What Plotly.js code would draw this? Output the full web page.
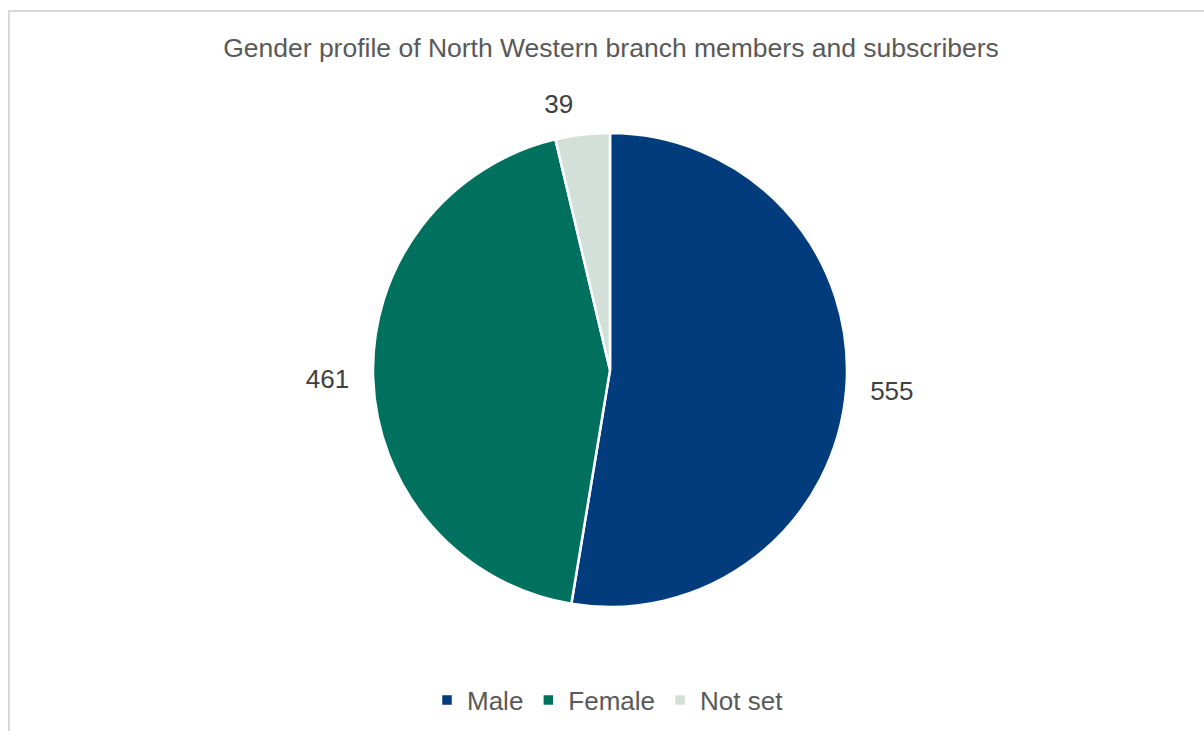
<!DOCTYPE html>
<html>
<head>
<meta charset="utf-8">
<script src="https://cdn.plot.ly/plotly-3.0.1.min.js"></script>
<style>
html,body{margin:0;padding:0;background:#fff;}
#frame{position:absolute;left:8px;top:10px;width:1300px;height:900px;border:2px solid #d9d9d9;box-sizing:border-box;}
#chart{position:absolute;left:0;top:0;width:1204px;height:731px;}
</style>
</head>
<body>
<div id="frame"></div>
<div id="chart"></div>
<script>
const categories = ["Male", "Female", "Not set"];
const values = [555, 461, 39];
const colors = ["#023C7C", "#00705F", "#D2E0D9"];
const chartTitle = "Gender profile of North Western branch members and subscribers";

const FONT = "Liberation Sans, Arial, sans-serif";

// visible pie (no text)
const pieTrace = {
  type: "pie",
  labels: categories,
  values: values,
  sort: false,
  direction: "clockwise",
  rotation: 0,
  domain: {x: [17/508, 491/508], y: [17/507, 491/507]},
  marker: {colors: colors, line: {color: "#ffffff", width: 2.5}},
  textinfo: "none",
  hoverinfo: "label+value",
  showlegend: true
};

// transparent, slightly larger pie only to place the outside value labels
const labelTrace = {
  type: "pie",
  labels: categories,
  values: values,
  sort: false,
  direction: "clockwise",
  rotation: 0,
  domain: {x: [0, 1], y: [0, 1]},
  marker: {colors: ["rgba(0,0,0,0)", "rgba(0,0,0,0)", "rgba(0,0,0,0)"], line: {width: 0}},
  textinfo: "value",
  textposition: "outside",
  textfont: {family: FONT, size: 26, color: "#404040"},
  hoverinfo: "skip",
  showlegend: false
};

const layout = {
  width: 1204,
  height: 731,
  paper_bgcolor: "rgba(0,0,0,0)",
  plot_bgcolor: "rgba(0,0,0,0)",
  margin: {l: 356, r: 340, t: 117, b: 107},
  title: {
    text: chartTitle,
    font: {family: FONT, size: 26.5, color: "#595959"},
    x: 611/1204, xref: "container", xanchor: "center",
    y: 1 - 48/731, yref: "container", yanchor: "middle"
  },
  legend: {
    orientation: "h",
    x: 608/1204, xref: "container", xanchor: "center",
    y: 1 - 700/731, yref: "container", yanchor: "middle",
    font: {family: FONT, size: 26, color: "#595959"},
    itemwidth: 30,
    traceorder: "normal"
  }
};

Plotly.newPlot("chart", [pieTrace, labelTrace], layout, {displayModeBar: false, staticPlot: true});
</script>
</body>
</html>
